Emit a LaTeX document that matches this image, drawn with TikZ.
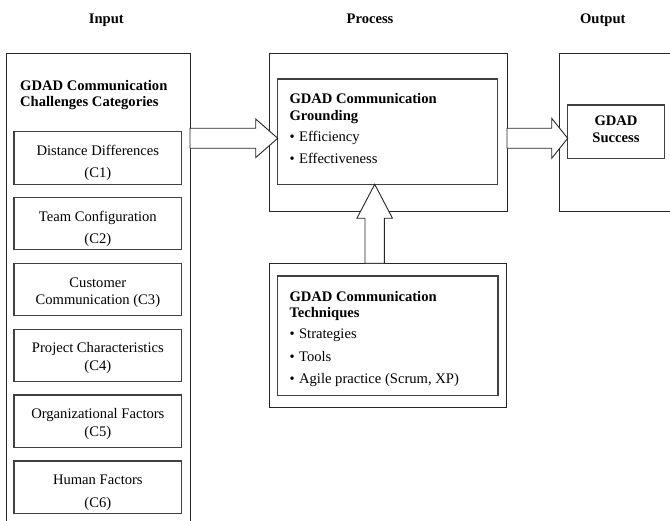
\documentclass[tikz,border=0pt]{standalone}
\usepackage{fontspec}
\setmainfont{Liberation Serif}
\usetikzlibrary{calc}
\begin{document}
\begin{tikzpicture}[x=1pt,y=-1pt,
  outerbox/.style={draw=black!85, line width=0.9pt, inner sep=0pt, outer sep=0pt, anchor=north west},
  innerbox/.style={draw=black!75, line width=1.2pt, inner sep=0pt, outer sep=0pt, anchor=north west},
  cbox/.style={innerbox, minimum width=167.7pt, minimum height=52.5pt},
  txt/.style={inner sep=0pt, anchor=base, font=\fontsize{14.6}{17}\selectfont},
  ltxt/.style={txt, anchor=base west},
  btxt/.style={inner sep=0pt, anchor=base, font=\fontsize{14.6}{17}\selectfont\bfseries},
  lbtxt/.style={btxt, anchor=base west},
  fatarrow/.style={draw=black!85, line width=0.9pt, fill=white, line join=miter}]
\clip (0,0) rectangle (670,521);
\fill[white] (0,0) rectangle (670,521);

% headers
\node[btxt] (hin) at (106.3,23.5) {Input};
\node[btxt] (hproc) at (370,23.5) {Process};
\node[btxt] (hout) at (602.8,23.5) {Output};

% outer boxes
\node[outerbox, minimum width=184pt, minimum height=480pt] (inbox) at (6,53) {};
\node[outerbox, minimum width=238pt, minimum height=158pt] (procbox) at (269,53) {};
\node[outerbox, minimum width=130pt, minimum height=158pt] (outbox) at (559,53) {};
\node[outerbox, minimum width=237.4pt, minimum height=144.4pt] (techbox) at (269.3,263.3) {};

% input title
\node[lbtxt] (intitle1) at (20,90.6) {GDAD Communication};
\node[lbtxt] (intitle2) at (20,106.6) {Challenges Categories};

% category boxes
\node[cbox] (c1) at (14,131.7) {};
\node[cbox] (c2) at (14,197.3) {};
\node[cbox] (c3) at (14,263.3) {};
\node[cbox] (c4) at (14,329.3) {};
\node[cbox] (c5) at (14,395) {};
\node[cbox] (c6) at (14,461) {};

\node[txt] (c1a) at (97.85,155.8) {Distance Differences};
\node[txt] (c1b) at (97.85,177.5) {(C1)};
\node[txt] (c2a) at (97.85,221.5) {Team Configuration};
\node[txt] (c2b) at (97.85,243.3) {(C2)};
\node[txt] (c3a) at (97.85,288) {Customer};
\node[txt] (c3b) at (97.85,305) {Communication (C3)};
\node[txt] (c4a) at (97.85,353) {Project Characteristics};
\node[txt] (c4b) at (97.85,370.5) {(C4)};
\node[txt] (c5a) at (97.85,419) {Organizational Factors};
\node[txt] (c5b) at (97.85,436.5) {(C5)};
\node[txt] (c6a) at (97.85,484.8) {Human Factors};
\node[txt] (c6b) at (97.85,507.3) {(C6)};

% process inner boxes
\node[innerbox, minimum width=220pt, minimum height=105.3pt] (grd) at (277.7,79) {};
\node[lbtxt] (grd1) at (289.3,103.3) {GDAD Communication};
\node[lbtxt] (grd2) at (289.3,120.5) {Grounding};
\node[ltxt] (grd3) at (289.3,141.5) {\textbullet\hspace{4.5pt}Efficiency};
\node[ltxt] (grd4) at (289.3,164) {\textbullet\hspace{4.5pt}Effectiveness};

\node[innerbox, minimum width=220.3pt, minimum height=119.7pt] (tech) at (277.7,276) {};
\node[lbtxt] (tech1) at (289.3,301.5) {GDAD Communication};
\node[lbtxt] (tech2) at (289.3,318) {Techniques};
\node[ltxt] (tech3) at (289.3,339) {\textbullet\hspace{4.5pt}Strategies};
\node[ltxt] (tech4) at (289.3,361.5) {\textbullet\hspace{4.5pt}Tools};
\node[ltxt] (tech5) at (289.3,383.7) {\textbullet\hspace{4.5pt}Agile practice (Scrum, XP)};

% output inner box
\node[innerbox, minimum width=96.6pt, minimum height=53.3pt] (succ) at (567.7,105) {};
\node[btxt] (succ1) at (616,125.8) {GDAD};
\node[btxt] (succ2) at (616,143) {Success};

% arrows
\coordinate (a1s) at (inbox.east |- 0,138.3);
\coordinate (a1e) at (grd.west |- 0,138.3);
\coordinate (a2s) at (procbox.east |- 0,138.3);
\coordinate (a2e) at (succ.west |- 0,138.3);
\coordinate (a3s) at (techbox.north -| 374.7,0);
\coordinate (a3e) at (grd.south -| 374.7,0);

\draw[fatarrow] let \p1=(a1s), \p2=(a1e) in
  (\x1,\y1+10pt) -- (\x2-22pt,\y1+10pt) -- (\x2-22pt,\y1+19.3pt) -- (\x2,\y1)
  -- (\x2-22pt,\y1-19.3pt) -- (\x2-22pt,\y1-10pt) -- (\x1,\y1-10pt) -- cycle;
\draw[fatarrow] let \p1=(a2s), \p2=(a2e) in
  (\x1,\y1+10pt) -- (\x2-16pt,\y1+10pt) -- (\x2-16pt,\y1+20pt) -- (\x2,\y1)
  -- (\x2-16pt,\y1-20pt) -- (\x2-16pt,\y1-10pt) -- (\x1,\y1-10pt) -- cycle;
\draw[fatarrow] let \p1=(a3s), \p2=(a3e) in
  (\x1-9.7pt,\y1) -- (\x1-9.7pt,\y2-34pt) -- (\x1-17.8pt,\y2-34pt) -- (\x2,\y2)
  -- (\x1+17.8pt,\y2-34pt) -- (\x1+9.7pt,\y2-34pt) -- (\x1+9.7pt,\y1) -- cycle;
\end{tikzpicture}
\end{document}
